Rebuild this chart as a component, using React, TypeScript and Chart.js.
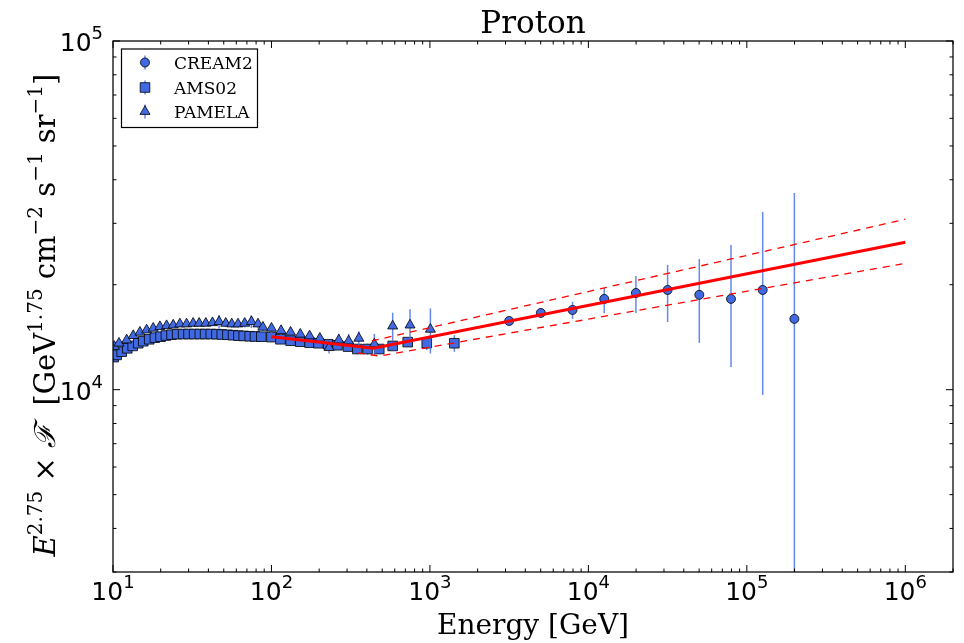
import React, { useEffect, useRef } from 'react';
import { Chart, registerables } from 'chart.js';

Chart.register(...registerables);

const W = 964;
const H = 643;

// ---------------- data ----------------
const CREAM2_E = [3162, 5012, 7943, 12589, 19953, 31623, 50119, 79433, 125893, 199526];
const CREAM2_F = [15740, 16600, 16930, 18210, 18940, 19320, 18710, 18210, 19320, 15960];
const CREAM2_LO = [15450, 16250, 15950, 16560, 16600, 15630, 13620, 11620, 9660, 100];
const CREAM2_HI = [16050, 16950, 17870, 19610, 21190, 22790, 23710, 26010, 32350, 36640];

const AMS02_E = [10.1, 10.55, 11.34, 12.3, 13.31, 14.43, 15.52, 16.93, 18.38, 19.97, 21.57, 23.42, 25.41, 27.72, 29.97, 32.51, 35.31, 38.13, 41.41, 44.98, 48.58, 52.76, 57.23, 61.89, 66.83, 72.92, 78.73, 86.3, 100, 114, 132, 152, 174, 198, 228, 261, 304, 348, 404, 479, 582, 724, 955, 1426];
const AMS02_F = [12400, 12580, 12850, 13140, 13350, 13590, 13770, 13950, 14100, 14190, 14300, 14380, 14430, 14440, 14440, 14440, 14440, 14440, 14440, 14430, 14400, 14370, 14330, 14290, 14260, 14230, 14210, 14190, 14150, 13950, 13820, 13730, 13640, 13590, 13500, 13410, 13290, 13080, 13080, 13080, 13350, 13690, 13590, 13590];
const AMS02_ERR = [180, 180, 180, 180, 180, 180, 180, 180, 180, 180, 180, 180, 190, 190, 190, 190, 200, 200, 200, 210, 210, 220, 230, 240, 250, 260, 270, 280, 300, 310, 320, 330, 340, 360, 380, 400, 420, 450, 480, 400, 350, 420, 600, 750];

const PAMELA_E = [10.2, 10.91, 12.2, 13.42, 14.79, 16.3, 17.94, 19.77, 21.79, 23.98, 26.42, 29.12, 32.05, 34.97, 38.52, 42.45, 46.7, 51.48, 56.15, 61.52, 67.8, 74.7, 82.2, 88.3, 100, 115, 132, 152, 174, 202, 231, 266, 307, 356, 446, 582, 749, 1007];
const PAMELA_F = [13300, 13590, 13880, 14290, 14610, 14830, 15000, 15160, 15260, 15320, 15430, 15430, 15500, 15500, 15500, 15560, 15670, 15500, 15430, 15430, 15500, 15670, 15430, 15100, 15000, 14770, 14610, 14420, 14260, 14040, 13200, 13880, 13790, 14040, 13520, 15220, 15320, 14900];
const PAMELA_ERR = [250, 250, 250, 250, 250, 250, 250, 260, 260, 270, 280, 290, 300, 310, 320, 340, 700, 360, 380, 400, 420, 650, 450, 470, 450, 400, 380, 360, 380, 400, 500, 580, 670, 660, 940, 1400, 1700, 2200];

const FIT_E = [100, 440, 1e6];
const FIT_F = [14190, 13140, 26470];
const FIT_UP_E = [430, 1e6];
const FIT_UP_F = [13800, 30820];
const FIT_LO_E = [350, 480, 1e6];
const FIT_LO_F = [12750, 12490, 23040];

const X_MIN = 10;
const X_MAX = 2e6;
const Y_MIN = 3000;
const Y_MAX = 1e5;
const X_DECADES = [1, 2, 3, 4, 5, 6];
const Y_DECADES = [4, 5];

const TITLE = 'Proton';
const X_LABEL = 'Energy [GeV]';
const LEGEND_NAMES = ['CREAM2', 'AMS02', 'PAMELA'];

// ---------------- styles ----------------
const BLUE = '#4169E1';
const ERR_COLOR = 'rgba(75,115,230,0.85)';
const RED = '#FF0000';
const SERIF = '"DejaVu Serif", "Liberation Serif", serif';
const SANS = '"DejaVu Sans", "Liberation Sans", sans-serif';

type Seg = { t: string; sup?: boolean; it?: boolean };

function segFont(s: Seg, size: number, supSize: number, family: string) {
  return `${s.it ? 'italic ' : ''}${s.sup ? supSize : size}px ${family}`;
}
// align: 0 = left at x, 0.5 = centred on x, 1 = right at x
function drawRich(ctx: CanvasRenderingContext2D, segs: Seg[], x: number, y: number, size: number, supSize: number, family: string, raise: number, align: number) {
  ctx.textAlign = 'left';
  ctx.textBaseline = 'alphabetic';
  const widths = segs.map((s) => {
    ctx.font = segFont(s, size, supSize, family);
    return ctx.measureText(s.t).width;
  });
  const total = widths.reduce((p, c) => p + c, 0);
  let cx = x - total * align;
  segs.forEach((s, i) => {
    ctx.font = segFont(s, size, supSize, family);
    ctx.fillText(s.t, cx, s.sup ? y - raise : y);
    cx += widths[i];
  });
}

function logTicks(min: number, max: number) {
  const out: { value: number; major: boolean }[] = [];
  for (let e = Math.floor(Math.log10(min)); e <= Math.ceil(Math.log10(max)); e++) {
    for (let m = 1; m < 10; m++) {
      const v = m * Math.pow(10, e);
      if (v >= min * 0.999 && v <= max * 1.001) out.push({ value: v, major: m === 1 });
    }
  }
  return out;
}

function drawMarker(ctx: CanvasRenderingContext2D, style: string, x: number, y: number, r: number) {
  ctx.beginPath();
  if (style === 'circle') {
    ctx.arc(x, y, r, 0, Math.PI * 2);
  } else if (style === 'rect') {
    const s = Math.SQRT1_2 * r;
    ctx.rect(x - s, y - s, 2 * s, 2 * s);
  } else {
    ctx.moveTo(x, y - r);
    ctx.lineTo(x + r * Math.sin(Math.PI * 2 / 3), y - r * Math.cos(Math.PI * 2 / 3));
    ctx.lineTo(x + r * Math.sin(Math.PI * 4 / 3), y - r * Math.cos(Math.PI * 4 / 3));
    ctx.closePath();
  }
  ctx.fillStyle = BLUE;
  ctx.fill();
  ctx.lineWidth = 0.8;
  ctx.strokeStyle = '#000';
  ctx.stroke();
}

const pts = (xs: number[], ys: number[]) => xs.map((x, i) => ({ x, y: ys[i] }));

const errorBarPlugin = {
  id: 'errbars',
  beforeDatasetDraw(chart: any, args: any) {
    const ds = chart.data.datasets[args.index];
    if (!ds.errLo) return;
    const { ctx, chartArea: a } = chart;
    const xs = chart.scales.x;
    const ys = chart.scales.y;
    ctx.save();
    ctx.beginPath();
    ctx.rect(a.left, a.top, a.right - a.left, a.bottom - a.top);
    ctx.clip();
    ctx.strokeStyle = ERR_COLOR;
    ctx.lineWidth = 1.5;
    ds.data.forEach((p: any, i: number) => {
      const px = xs.getPixelForValue(p.x);
      const y1 = ys.getPixelForValue(Math.max(ds.errLo[i], 1));
      const y2 = ys.getPixelForValue(ds.errHi[i]);
      ctx.beginPath();
      ctx.moveTo(px, Math.min(y1, a.bottom + 5));
      ctx.lineTo(px, y2);
      ctx.stroke();
    });
    ctx.restore();
  },
};

const decorPlugin = {
  id: 'decor',
  afterDraw(chart: any) {
    const { ctx, chartArea: a } = chart;
    const xs = chart.scales.x;
    const ys = chart.scales.y;
    ctx.save();
    // frame
    ctx.strokeStyle = '#000';
    ctx.lineWidth = 1.25;
    ctx.strokeRect(a.left, a.top, a.right - a.left, a.bottom - a.top);
    // ticks (inward, all sides)
    ctx.lineWidth = 1;
    for (const t of logTicks(X_MIN, X_MAX)) {
      const px = xs.getPixelForValue(t.value);
      if (px < a.left - 0.5 || px > a.right + 0.5) continue;
      const len = t.major ? 7 : 3.5;
      ctx.beginPath();
      ctx.moveTo(px, a.bottom);
      ctx.lineTo(px, a.bottom - len);
      ctx.moveTo(px, a.top);
      ctx.lineTo(px, a.top + len);
      ctx.stroke();
    }
    for (const t of logTicks(Y_MIN, Y_MAX)) {
      const py = ys.getPixelForValue(t.value);
      if (py < a.top - 0.5 || py > a.bottom + 0.5) continue;
      const len = t.major ? 7 : 3.5;
      ctx.beginPath();
      ctx.moveTo(a.left, py);
      ctx.lineTo(a.left + len, py);
      ctx.moveTo(a.right, py);
      ctx.lineTo(a.right - len, py);
      ctx.stroke();
    }
    ctx.fillStyle = '#000';
    // x tick labels
    X_DECADES.forEach((e) => {
      const px = xs.getPixelForValue(Math.pow(10, e));
      drawRich(ctx, [{ t: '10' }, { t: String(e), sup: true }], px, 600, 25, 18, SANS, 12, 0.5);
    });
    // y tick labels
    Y_DECADES.forEach((e) => {
      const py = ys.getPixelForValue(Math.pow(10, e));
      drawRich(ctx, [{ t: '10' }, { t: String(e), sup: true }], a.left - 10, py + 10, 25, 18, SANS, 12, 1);
    });
    // title
    ctx.font = `31px ${SERIF}`;
    ctx.textAlign = 'center';
    ctx.textBaseline = 'alphabetic';
    ctx.fillText(TITLE, (a.left + a.right) / 2, 33);
    // x label
    ctx.font = `28px ${SERIF}`;
    ctx.textAlign = 'center';
    ctx.fillText(X_LABEL, (a.left + a.right) / 2, 634);
    // y label
    const ySegs: Seg[] = [
      { t: 'E', it: true }, { t: '2.75', sup: true }, { t: ' × ' }, { t: 'ℱ', it: true },
      { t: '  [GeV' }, { t: '1.75', sup: true }, { t: ' cm' }, { t: '−2', sup: true },
      { t: ' s' }, { t: '−1', sup: true }, { t: ' sr' }, { t: '−1', sup: true }, { t: ']' },
    ];
    ctx.save();
    ctx.translate(55, 315);
    ctx.rotate(-Math.PI / 2);
    drawRich(ctx, ySegs, 0, 0, 29, 20, SERIF, 13, 0.5);
    ctx.restore();
    // legend
    const lx = 121.5, ly = 49, lw = 136, lh = 78.5;
    ctx.fillStyle = '#fff';
    ctx.fillRect(lx, ly, lw, lh);
    ctx.strokeStyle = '#000';
    ctx.lineWidth = 1.2;
    ctx.strokeRect(lx, ly, lw, lh);
    const styles = ['circle', 'rect', 'triangle'];
    const radii = [4.5, 6.8, 5.8];
    const rowsY = [62.5, 87.5, 111.5];
    for (let i = 0; i < 3; i++) {
      const mx = 145, my = rowsY[i];
      ctx.strokeStyle = ERR_COLOR;
      ctx.lineWidth = 1.5;
      ctx.beginPath();
      ctx.moveTo(mx, my - 7);
      ctx.lineTo(mx, my + 7);
      ctx.stroke();
      drawMarker(ctx, styles[i], mx, my, radii[i]);
      ctx.fillStyle = '#000';
      ctx.font = `17px ${SERIF}`;
      ctx.textAlign = 'left';
      ctx.textBaseline = 'alphabetic';
      ctx.fillText(LEGEND_NAMES[i], 174, my + 6);
    }
    ctx.restore();
  },
};

export default function App() {
  const ref = useRef<HTMLCanvasElement>(null);
  useEffect(() => {
    const canvas = ref.current!;
    const markerCommon = {
      backgroundColor: BLUE,
      pointBackgroundColor: BLUE,
      pointBorderColor: '#000',
      pointBorderWidth: 0.8,
      showLine: false,
    };
    const chart = new Chart(canvas, {
      type: 'scatter',
      data: {
        datasets: [
          { label: 'fit', data: pts(FIT_E, FIT_F), showLine: true, borderColor: RED, borderWidth: 3, pointRadius: 0, order: 0 } as any,
          { label: 'fit upper', data: pts(FIT_UP_E, FIT_UP_F), showLine: true, borderColor: RED, borderWidth: 1.3, borderDash: [7, 6], pointRadius: 0, order: 0 } as any,
          { label: 'fit lower', data: pts(FIT_LO_E, FIT_LO_F), showLine: true, borderColor: RED, borderWidth: 1.3, borderDash: [7, 6], pointRadius: 0, order: 0 } as any,
          {
            label: 'PAMELA',
            data: pts(PAMELA_E, PAMELA_F),
            errLo: PAMELA_F.map((v, i) => v - PAMELA_ERR[i]),
            errHi: PAMELA_F.map((v, i) => v + PAMELA_ERR[i]),
            pointStyle: 'triangle',
            pointRadius: 5.8,
            order: 1,
            ...markerCommon,
          } as any,
          {
            label: 'AMS02',
            data: pts(AMS02_E, AMS02_F),
            errLo: AMS02_F.map((v, i) => v - AMS02_ERR[i]),
            errHi: AMS02_F.map((v, i) => v + AMS02_ERR[i]),
            pointStyle: 'rect',
            pointRadius: 6.8,
            order: 2,
            ...markerCommon,
          } as any,
          {
            label: 'CREAM2',
            data: pts(CREAM2_E, CREAM2_F),
            errLo: CREAM2_LO,
            errHi: CREAM2_HI,
            pointStyle: 'circle',
            pointRadius: 4.5,
            order: 3,
            ...markerCommon,
          } as any,
        ],
      },
      options: {
        animation: false,
        responsive: false,
        events: [],
        layout: { padding: { top: 41, right: 11, left: 113, bottom: 71 } },
        plugins: {
          legend: { display: false },
          tooltip: { enabled: false },
          title: { display: false },
        },
        scales: {
          x: { type: 'logarithmic', min: X_MIN, max: X_MAX, position: 'bottom', display: false },
          y: { type: 'logarithmic', min: Y_MIN, max: Y_MAX, position: 'left', display: false },
        },
      } as any,
      plugins: [errorBarPlugin, decorPlugin],
    });
    return () => chart.destroy();
  }, []);
  return (
    <div style={{ position: 'absolute', left: 0, top: 0, width: W, height: H, background: '#fff' }}>
      <canvas ref={ref} width={W} height={H} style={{ width: W, height: H, display: 'block' }} />
    </div>
  );
}
